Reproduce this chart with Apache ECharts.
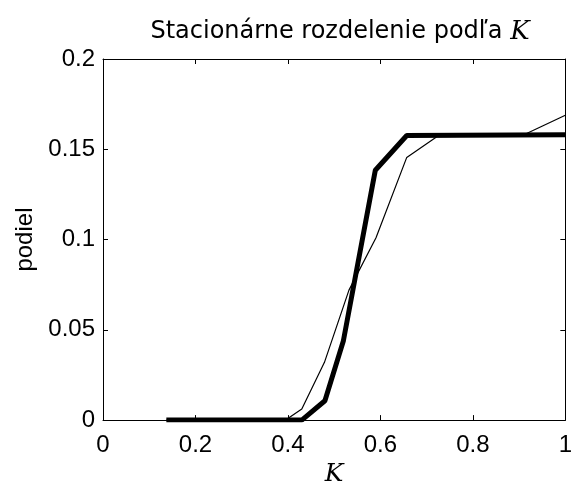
<!DOCTYPE html>
<html>
<head>
<meta charset="utf-8">
<script src="https://cdn.jsdelivr.net/npm/echarts@6/dist/echarts.min.js"></script>
<style>
  html, body { margin: 0; padding: 0; background: #fff; }
  #chart { width: 575px; height: 492px; }
</style>
</head>
<body>
<div id="chart"></div>
<script>
// Data
const thickK = [0.137, 0.43, 0.48, 0.52, 0.589, 0.657, 1.0];
const thickShare = [0, 0, 0.0107, 0.044, 0.1384, 0.1576, 0.158];
const thinK = [0.137, 0.395, 0.43, 0.479, 0.532, 0.5905, 0.657, 0.722, 0.907, 1.0];
const thinShare = [0, 0, 0.0062, 0.032, 0.072, 0.101, 0.1455, 0.157, 0.1576, 0.1688];
const xTicks = [0, 0.2, 0.4, 0.6, 0.8, 1];
const yTicks = [0, 0.05, 0.1, 0.15, 0.2];
const titleText = 'Stacionárne rozdelenie podľa ';
const titleVar = 'K';
const xName = 'K';
const yName = 'podiel';

const pairs = (xs, ys) => xs.map((x, i) => [x, ys[i]]);
const fmt = (v, ticks) => {
  const t = ticks.find(t => Math.abs(t - v) < 1e-9);
  return t === undefined ? '' : String(t);
};

const chart = echarts.init(document.getElementById('chart'), null, { renderer: 'canvas' });
const tickFont = { fontFamily: 'Liberation Sans, Arial, sans-serif', fontSize: 24, color: '#000' };
const axisLine = { show: true, onZero: false, lineStyle: { color: '#000', width: 1 } };
const axisTick = { show: true, inside: true, length: 5, lineStyle: { color: '#000', width: 1 } };

chart.setOption({
  animation: false,
  backgroundColor: '#fff',
  title: {
    text: '{a|' + titleText + '}{b|' + titleVar + '}',
    left: 335,
    top: 14,
    textAlign: 'center',
    textStyle: {
      fontWeight: 'normal',
      rich: {
        a: { fontFamily: 'DejaVu Sans, sans-serif', fontSize: 24, fontWeight: 'normal', color: '#000' },
        b: { fontFamily: 'DejaVu Serif, serif', fontStyle: 'italic', fontWeight: 'normal', fontSize: 26, color: '#000' }
      }
    }
  },
  grid: { left: 103, right: 4, top: 59, bottom: 64, containLabel: false },
  xAxis: [
    {
      type: 'value', min: 0, max: 1, interval: 0.2, position: 'bottom',
      axisLine, axisTick, splitLine: { show: false },
      axisLabel: Object.assign({ margin: 13, formatter: v => fmt(v, xTicks) }, tickFont),
      name: xName, nameLocation: 'middle', nameGap: 28,
      nameTextStyle: { fontFamily: 'DejaVu Serif, serif', fontStyle: 'italic', fontSize: 25, color: '#000' }
    },
    {
      type: 'value', min: 0, max: 1, interval: 0.2, position: 'top',
      axisLine, axisTick, splitLine: { show: false }, axisLabel: { show: false }
    }
  ],
  yAxis: [
    {
      type: 'value', min: 0, max: 0.2, interval: 0.05, position: 'left',
      axisLine, axisTick, splitLine: { show: false },
      axisLabel: Object.assign({ margin: 8, formatter: v => fmt(v, yTicks) }, tickFont),
      name: yName, nameLocation: 'middle', nameGap: 64, nameRotate: 90,
      nameTextStyle: { fontFamily: 'Liberation Sans, Arial, sans-serif', fontSize: 24, color: '#000' }
    },
    {
      type: 'value', min: 0, max: 0.2, interval: 0.05, position: 'right',
      axisLine, axisTick, splitLine: { show: false }, axisLabel: { show: false }
    }
  ],
  series: [
    {
      type: 'line', name: 'thin', data: pairs(thinK, thinShare),
      showSymbol: false, symbol: 'none',
      lineStyle: { color: '#000', width: 1.2 }, z: 2
    },
    {
      type: 'line', name: 'thick', data: pairs(thickK, thickShare),
      showSymbol: false, symbol: 'none',
      lineStyle: { color: '#000', width: 5 }, z: 3
    }
  ]
});
</script>
</body>
</html>
